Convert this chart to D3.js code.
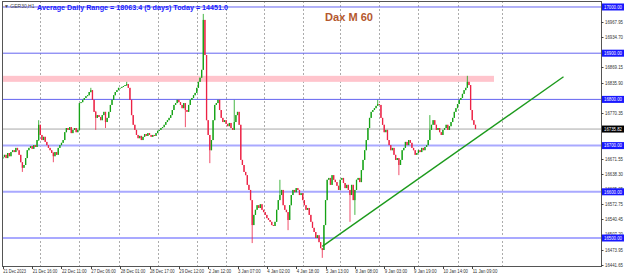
<!DOCTYPE html>
<html>
<head>
<meta charset="utf-8">
<script src="https://cdn.jsdelivr.net/npm/d3@7.9.0/dist/d3.min.js"></script>
<style>
  html, body { margin: 0; padding: 0; background: #fff; }
  svg { display: block; font-family: "Liberation Sans", Arial, sans-serif; }
</style>
</head>
<body>
<svg id="chart" width="625" height="276"></svg>
<script>
// GER30 H1 closes, one per bar (open = previous close)
const firstOpen = 16672;
const closes = [
  16675,16680,16673,16684,16677,16686,16690,16686,16695,16690,
  16680,16664,16652,16658,16673,16690,16695,16699,16693,16701,
  16697,16712,16745,16723,16712,16719,16708,16701,16695,16690,
  16684,16677,16686,16680,16695,16701,16706,16712,16729,16738,
  16734,16740,16727,16734,16738,16729,16734,16792,16794,16799,
  16803,16807,16809,16816,16820,16799,16773,16760,16766,16762,
  16755,16766,16773,16751,16760,16773,16788,16799,16809,16816,
  16820,16825,16825,16827,16829,16831,16833,16825,16799,16766,
  16745,16734,16723,16716,16721,16712,16719,16725,16721,16727,
  16723,16719,16723,16721,16727,16732,16734,16738,16740,16745,
  16751,16755,16760,16766,16777,16788,16792,16799,16794,16788,
  16781,16792,16777,16773,16788,16799,16803,16809,16814,16825,
  16838,16847,16864,16972,16896,16755,16723,16690,16712,16755,
  16788,16792,16799,16777,16760,16751,16755,16747,16742,16749,
  16738,16734,16751,16766,16773,16745,16669,16658,16643,16636,
  16615,16604,16582,16528,16550,16561,16571,16565,16573,16561,
  16556,16550,16543,16539,16535,16528,16526,16535,16561,16582,
  16593,16604,16571,16561,16556,16539,16571,16593,16604,16599,
  16608,16604,16593,16597,16582,16571,16561,16565,16550,16535,
  16522,16513,16500,16506,16491,16478,16474,16528,16582,16626,
  16630,16615,16636,16626,16621,16613,16604,16626,16630,16619,
  16608,16615,16604,16593,16615,16582,16604,16626,16630,16621,
  16647,16669,16690,16712,16738,16760,16773,16777,16781,16786,
  16790,16788,16760,16745,16729,16734,16712,16701,16690,16695,
  16680,16669,16673,16658,16669,16690,16695,16708,16701,16712,
  16706,16695,16690,16680,16684,16690,16686,16695,16690,16697,
  16701,16712,16734,16745,16755,16745,16734,16738,16729,16723,
  16734,16738,16745,16734,16742,16751,16760,16773,16781,16790,
  16799,16803,16812,16820,16825,16838,16831,16777,16755,16745,
  16735.82
];
// wicks: [bar, high, low]
const wicks = [
  [12, 16660, 16643], [22, 16755, 16710], [31, 16686, 16664],
  [54, 16825, 16815], [57, 16775, 16734], [63, 16773, 16738],
  [76, 16838, 16829], [112, 16777, 16740], [123, 16985, 16864],
  [127, 16723, 16662], [142, 16799, 16749], [153, 16582, 16489],
  [170, 16626, 16582], [175, 16556, 16517], [196, 16478, 16457],
  [213, 16604, 16535], [216, 16604, 16550], [230, 16799, 16786],
  [243, 16673, 16636], [262, 16766, 16712], [285, 16851, 16825]
];

const timeLabels = ["21 Dec 2023", "21 Dec 16:00", "22 Dec 11:00", "27 Dec 06:00", "28 Dec 01:00",
  "28 Dec 17:00", "29 Dec 12:00", "2 Jan 12:00", "3 Jan 07:00", "4 Jan 02:00", "4 Jan 18:00",
  "5 Jan 13:00", "8 Jan 08:00", "9 Jan 03:00", "9 Jan 19:00", "10 Jan 14:00", "11 Jan 09:00"];
const timeLabelBars = [0, 18, 36, 54, 72, 90, 108, 126, 144, 162, 180, 198, 216, 234, 252, 270, 288];
const separatorBars = [23, 47, 71, 95, 119, 137, 160, 184, 207, 231, 255, 279, 306];

const priceTicks = [16967.95, 16934.70, 16869.15, 16835.90, 16770.35, 16671.55, 16638.30,
  16605.05, 16572.75, 16540.45, 16507.20, 16473.95, 16441.65];
const levelsStrong = [17000, 16900, 16800];
const levelsSoft = [16700, 16600, 16500];
const zone = [16838, 16851];
const lastPrice = 16735.82;
const trendline = [[196, 16482], [344, 16849]];

const svg = d3.select('#chart');
const W = 625, H = 276;
const pLeft = 2, pRight = 601, pTop = 1, pBottom = 266;

const x = d3.scaleLinear().domain([-0.5, 367]).range([pLeft, pRight]);
const y = d3.scaleLinear().domain([16439.4, 17010.8]).range([pBottom, pTop + 1]);

svg.append('rect').attr('width', W).attr('height', H).attr('fill', '#fff');

// day separators
svg.append('g').selectAll('line').data(separatorBars).join('line')
  .attr('x1', d => Math.round(x(d)) + 0.5).attr('x2', d => Math.round(x(d)) + 0.5)
  .attr('y1', pTop).attr('y2', pBottom)
  .attr('stroke', '#888').attr('stroke-width', 0.7).attr('stroke-dasharray', '2,2');

// pink zone
svg.append('rect')
  .attr('x', pLeft).attr('width', 492)
  .attr('y', y(zone[1])).attr('height', y(zone[0]) - y(zone[1]))
  .attr('fill', '#ffc4cc');

// horizontal levels
svg.append('g').selectAll('line').data(levelsSoft).join('line')
  .attr('x1', pLeft).attr('x2', pRight)
  .attr('y1', d => y(d)).attr('y2', d => y(d))
  .attr('stroke', '#a9a9ff').attr('stroke-width', 2);
svg.append('g').selectAll('line').data(levelsStrong).join('line')
  .attr('x1', pLeft).attr('x2', pRight)
  .attr('y1', d => y(d)).attr('y2', d => y(d))
  .attr('stroke', '#6464f0').attr('stroke-width', 1);
svg.append('line')
  .attr('x1', pLeft).attr('x2', pRight)
  .attr('y1', y(lastPrice)).attr('y2', y(lastPrice))
  .attr('stroke', '#a8a8a8').attr('stroke-width', 1);

// candles
const wickMap = new Map(wicks.map(w => [w[0], w]));
const bars = closes.map((c, i) => {
  const o = i === 0 ? firstOpen : closes[i - 1];
  const w = wickMap.get(i);
  return {
    i, o, c,
    h: w ? Math.max(w[1], o, c) : Math.max(o, c),
    l: w ? Math.min(w[2], o, c) : Math.min(o, c)
  };
});
const up = '#16a316', down = '#ec2245';
const cg = svg.append('g');
cg.selectAll('line').data(bars).join('line')
  .attr('x1', d => x(d.i)).attr('x2', d => x(d.i))
  .attr('y1', d => y(d.h)).attr('y2', d => y(d.l))
  .attr('stroke', d => d.c >= d.o ? up : down).attr('stroke-width', 0.8);
cg.selectAll('rect').data(bars).join('rect')
  .attr('x', d => x(d.i) - 0.65).attr('width', 1.3)
  .attr('y', d => y(Math.max(d.o, d.c)))
  .attr('height', d => Math.max(0.8, Math.abs(y(d.o) - y(d.c))))
  .attr('fill', d => d.c >= d.o ? up : down);

// trend line
svg.append('line')
  .attr('x1', x(trendline[0][0])).attr('y1', y(trendline[0][1]))
  .attr('x2', x(trendline[1][0])).attr('y2', y(trendline[1][1]))
  .attr('stroke', '#1c9a1c').attr('stroke-width', 1.4);

// frame
svg.append('rect')
  .attr('x', pLeft + 0.5).attr('y', pTop + 0.5)
  .attr('width', pRight - pLeft).attr('height', pBottom - pTop)
  .attr('fill', 'none').attr('stroke', '#555').attr('stroke-width', 1);

// price axis
const pa = svg.append('g').attr('font-size', 4.9).attr('fill', '#333');
pa.selectAll('line').data(priceTicks).join('line')
  .attr('x1', pRight).attr('x2', pRight + 2.5)
  .attr('y1', d => Math.round(y(d)) + 0.5).attr('y2', d => Math.round(y(d)) + 0.5)
  .attr('stroke', '#444');
pa.selectAll('text').data(priceTicks).join('text')
  .attr('x', pRight + 4).attr('y', d => y(d) + 1.8)
  .attr('textLength', 18).attr('lengthAdjust', 'spacingAndGlyphs')
  .text(d => d.toFixed(2));

const boxes = levelsStrong.concat(levelsSoft).map(v => ({ v, fill: '#1818ff' }))
  .concat([{ v: lastPrice, fill: '#000' }]);
const bg = svg.append('g');
bg.selectAll('rect').data(boxes).join('rect')
  .attr('x', pRight + 1).attr('width', 22)
  .attr('y', d => y(d.v) - 3.5).attr('height', 7)
  .attr('fill', d => d.fill);
bg.selectAll('text').data(boxes).join('text')
  .attr('x', pRight + 3).attr('y', d => y(d.v) + 1.8)
  .attr('font-size', 4.9).attr('fill', '#fff')
  .attr('textLength', 18).attr('lengthAdjust', 'spacingAndGlyphs')
  .text(d => d.v.toFixed(2));

// time axis
const ta = svg.append('g').attr('font-size', 4.8).attr('fill', '#333');
ta.selectAll('line').data(timeLabelBars).join('line')
  .attr('x1', d => Math.round(x(d)) + 0.5).attr('x2', d => Math.round(x(d)) + 0.5)
  .attr('y1', pBottom).attr('y2', pBottom + 3)
  .attr('stroke', '#444');
ta.selectAll('text').data(timeLabels).join('text')
  .attr('x', (d, i) => x(timeLabelBars[i]) + 0.5).attr('y', 273)
  .attr('textLength', d => d.length * 2.05).attr('lengthAdjust', 'spacingAndGlyphs')
  .text(d => d);

// header texts
svg.append('text').attr('x', 4).attr('y', 7.5).attr('font-size', 5).attr('fill', '#444')
  .text('\u25BC GER30,H1');
svg.append('text').attr('x', 37).attr('y', 9.5).attr('font-size', 7.6).attr('font-weight', 'bold')
  .attr('fill', '#1a1aff').attr('textLength', 191).attr('lengthAdjust', 'spacingAndGlyphs')
  .text('Average Daily Range = 18063.4 (5 days)   Today = 14451.0');
svg.append('text').attr('x', 325).attr('y', 21).attr('font-size', 11).attr('font-weight', 'bold')
  .attr('fill', '#b4582e').attr('textLength', 48).attr('lengthAdjust', 'spacingAndGlyphs')
  .text('Dax M 60');
</script>
</body>
</html>
